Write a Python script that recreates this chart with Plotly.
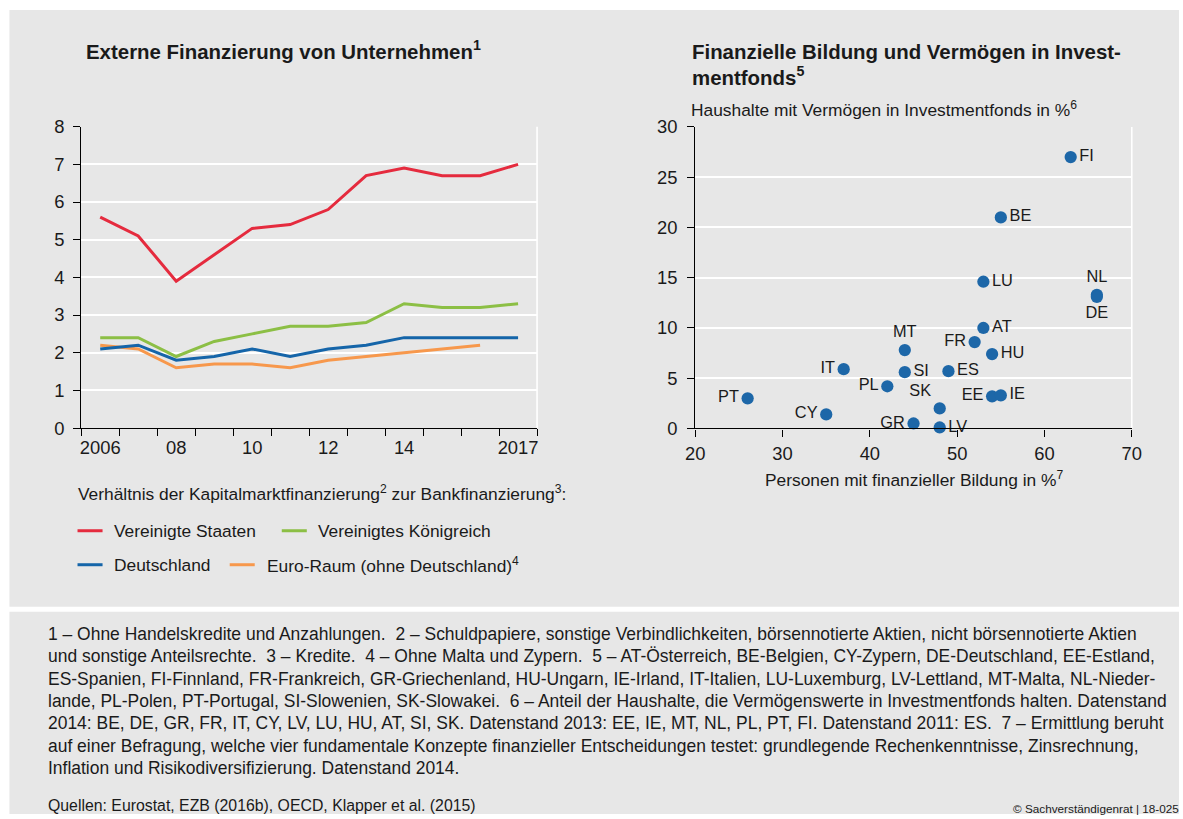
import plotly.graph_objects as go

# ---- data: corporate external financing (ratio capital market / bank financing)
years = [2006, 2007, 2008, 2009, 2010, 2011, 2012, 2013, 2014, 2015, 2016, 2017]
us = [5.6, 5.1, 3.9, 4.6, 5.3, 5.4, 5.8, 6.7, 6.9, 6.7, 6.7, 7.0]
uk = [2.4, 2.4, 1.9, 2.3, 2.5, 2.7, 2.7, 2.8, 3.3, 3.2, 3.2, 3.3]
de = [2.1, 2.2, 1.8, 1.9, 2.1, 1.9, 2.1, 2.2, 2.4, 2.4, 2.4, 2.4]
ea_years = [2006, 2007, 2008, 2009, 2010, 2011, 2012, 2013, 2014, 2015, 2016]
ea = [2.2, 2.1, 1.6, 1.7, 1.7, 1.6, 1.8, 1.9, 2.0, 2.1, 2.2]

x_tickvals = [2006, 2008, 2010, 2012, 2014, 2017]
x_ticktext = ["2006", "08", "10", "12", "14", "2017"]

# ---- data: financial literacy vs. investment fund holdings
countries = ["FI", "BE", "LU", "NL", "DE", "AT", "FR", "HU", "MT", "IT",
             "SI", "ES", "PL", "PT", "EE", "IE", "CY", "SK", "GR", "LV"]
literacy = [63, 55, 53, 66, 66, 53, 52, 54, 44, 37,
            44, 49, 42, 26, 54, 55, 35, 48, 45, 48]
fund_share = [27.0, 21.0, 14.6, 13.3, 13.1, 10.0, 8.6, 7.4, 7.8, 5.9,
              5.6, 5.7, 4.2, 3.0, 3.2, 3.3, 1.4, 2.0, 0.5, 0.1]

# label placement around each marker
label_pos = {
    "FI": "middle right", "BE": "middle right", "LU": "middle right",
    "NL": "top center", "DE": "bottom center", "AT": "middle right",
    "FR": "middle left", "HU": "middle right", "MT": "top center",
    "IT": "middle left", "SI": "middle right", "ES": "middle right",
    "PL": "middle left", "PT": "middle left", "EE": "middle left",
    "IE": "middle right", "CY": "middle left", "SK": "top left",
    "GR": "middle left", "LV": "middle right",
}

# Layout positions below are given in window pixels; the page keeps its
# default body margin and is shown slightly scaled, so window pixels are
# mapped back to figure pixels with this offset/scale.
OX, SX = 10.56, 0.982
OY, SY = 10.0, 0.975
K = 1 / 0.979          # size compensation for fonts and marks
W, H = 1189, 824

FONT = "Liberation Sans"
TXT = "#1a1a1a"
PANEL = "#e7e7e7"

RED, GREEN, BLUE, ORANGE = "#e52b3e", "#8cbf45", "#1565a9", "#f7984c"
DOT = "#1d67a8"


def fx(px):
    return ((px - OX) / SX) / W


def fy(py):
    return 1 - ((py - OY) / SY) / H


def fs(size):
    return round(size * K, 2)


fig = go.Figure()

line_series = [
    ("Vereinigte Staaten", years, us, RED),
    ("Vereinigtes Königreich", years, uk, GREEN),
    ("Deutschland", years, de, BLUE),
    ("Euro-Raum (ohne Deutschland)<sup>4</sup>", ea_years, ea, ORANGE),
]
# draw order: green, orange, blue, red on top
for idx in [1, 3, 2, 0]:
    name, xs, ys, col = line_series[idx]
    fig.add_trace(go.Scatter(x=xs, y=ys, mode="lines", name=name,
                             line=dict(color=col, width=3),
                             xaxis="x", yaxis="y", showlegend=False))

fig.add_trace(go.Scatter(
    x=literacy, y=fund_share, mode="markers+text", text=countries,
    textposition=[label_pos[c] for c in countries],
    textfont=dict(family=FONT, size=fs(16), color=TXT),
    marker=dict(color=DOT, size=fs(12)),
    xaxis="x2", yaxis="y2", showlegend=False, cliponaxis=False))

axis_common = dict(showline=True, linecolor="black", linewidth=1.3,
                   zeroline=False, tickfont=dict(family=FONT, size=fs(18), color=TXT),
                   tickcolor="black", fixedrange=True)

fig.update_layout(
    width=W, height=H,
    margin=dict(l=0, r=0, t=0, b=0),
    paper_bgcolor="white",
    plot_bgcolor="rgba(0,0,0,0)",
    font=dict(family=FONT, color=TXT),
    xaxis=dict(domain=[fx(81.7), fx(537)], range=[2005.5, 2017.5],
               tickvals=x_tickvals, ticktext=x_ticktext, ticks="",
               showgrid=False, ticklabelstandoff=3,
               minor=dict(tickvals=[y - 0.5 for y in years] + [years[-1] + 0.5],
                          ticks="outside", ticklen=7, tickcolor="black",
                          showgrid=False),
               anchor="y", **axis_common),
    yaxis=dict(domain=[fy(427.3), fy(125.7)], range=[0, 8], dtick=1,
               ticks="outside", ticklen=7, showgrid=True, gridcolor="white",
               gridwidth=1.6, anchor="x", ticklabelstandoff=5, **axis_common),
    xaxis2=dict(domain=[fx(695), fx(1131)], range=[20, 70], dtick=10,
                ticks="outside", ticklen=7, showgrid=False, anchor="y2",
                ticklabelstandoff=1, **axis_common),
    yaxis2=dict(domain=[fy(427.7), fy(126)], range=[0, 30], dtick=5,
                ticks="outside", ticklen=7, showgrid=True, gridcolor="white",
                gridwidth=1.6, anchor="x2", ticklabelstandoff=6, **axis_common),
)

shapes = [
    # background panels
    dict(type="rect", xref="paper", yref="paper", x0=fx(10), x1=1,
         y0=fy(606), y1=fy(9), fillcolor=PANEL, line_width=0, layer="below"),
    dict(type="rect", xref="paper", yref="paper", x0=fx(10), x1=1,
         y0=0, y1=fy(611), fillcolor=PANEL, line_width=0, layer="below"),
    # white right-hand frame of both plot areas
    dict(type="line", xref="x domain", yref="y domain", x0=1, x1=1, y0=0, y1=1,
         line=dict(color="white", width=1.6), layer="below"),
    dict(type="line", xref="x2 domain", yref="y2 domain", x0=1, x1=1, y0=0, y1=1,
         line=dict(color="white", width=1.6), layer="below"),
]

annotations = []


def text(x, y, s, size, xanchor="left", weight="normal", yanchor="middle"):
    annotations.append(dict(x=fx(x), y=fy(y), xref="paper", yref="paper",
                            text=s, showarrow=False, xanchor=xanchor,
                            yanchor=yanchor, align="left",
                            font=dict(family=FONT, size=fs(size), color=TXT,
                                      weight=weight)))


# titles
text(84, 49.5, "Externe Finanzierung von Unternehmen<sup>1</sup>", 20, weight="bold")
text(690, 51, "Finanzielle Bildung und Vermögen in Invest-", 20, weight="bold")
text(690, 75.5, "mentfonds<sup>5</sup>", 20, weight="bold")
text(689, 108, "Haushalte mit Vermögen in Investmentfonds in %<sup>6</sup>", 17)
text(913, 478, "Personen mit finanzieller Bildung in %<sup>7</sup>", 17, xanchor="center")

# legend of the line chart
text(76, 492, "Verhältnis der Kapitalmarktfinanzierung<sup>2</sup> zur "
     "Bankfinanzierung<sup>3</sup>:", 17)
legend_slots = [(78, 530, 112), (282, 530, 316), (78, 564, 112), (230, 564, 265)]
for (name, _, _, col), (lx, ly, tx) in zip(line_series, legend_slots):
    shapes.append(dict(type="line", xref="paper", yref="paper",
                       x0=fx(lx), x1=fx(lx + 25), y0=fy(ly), y1=fy(ly),
                       line=dict(color=col, width=3)))
    text(tx, ly, name, 17)

# footnotes
notes = [
    "1 – Ohne Handelskredite und Anzahlungen.\u00a0 2 – Schuldpapiere, sonstige "
    "Verbindlichkeiten, börsennotierte Aktien, nicht börsennotierte Aktien",
    "und sonstige Anteilsrechte.\u00a0 3 – Kredite.\u00a0 4 – Ohne Malta und Zypern.\u00a0 "
    "5 – AT-Österreich, BE-Belgien, CY-Zypern, DE-Deutschland, EE-Estland,",
    "ES-Spanien, FI-Finnland, FR-Frankreich, GR-Griechenland, HU-Ungarn, IE-Irland, "
    "IT-Italien, LU-Luxemburg, LV-Lettland, MT-Malta, NL-Nieder-",
    "lande, PL-Polen, PT-Portugal, SI-Slowenien, SK-Slowakei.\u00a0 6 – Anteil der "
    "Haushalte, die Vermögenswerte in Investmentfonds halten. Datenstand",
    "2014: BE, DE, GR, FR, IT, CY, LV, LU, HU, AT, SI, SK. Datenstand 2013: EE, IE, "
    "MT, NL, PL, PT, FI. Datenstand 2011: ES.\u00a0 7 – Ermittlung beruht",
    "auf einer Befragung, welche vier fundamentale Konzepte finanzieller "
    "Entscheidungen testet: grundlegende Rechenkenntnisse, Zinsrechnung,",
    "Inflation und Risikodiversifizierung. Datenstand 2014.",
]
for i, line in enumerate(notes):
    text(47, 633.5 + i * 22.3, line, 17.1)

text(47, 805, "Quellen: Eurostat, EZB (2016b), OECD, Klapper et al. (2015)", 15.5)
text(1180, 808, "© Sachverständigenrat | 18-025", 11.5, xanchor="right")

fig.update_layout(shapes=shapes, annotations=annotations)
fig.write_html("out.html")
